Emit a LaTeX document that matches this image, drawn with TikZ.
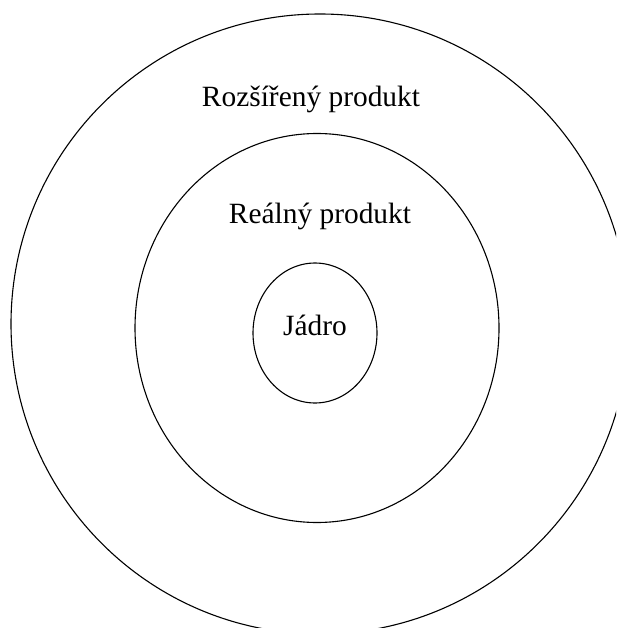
\documentclass[tikz,border=0pt]{standalone}
\usepackage{fontspec}
\setmainfont{Liberation Serif}
\usetikzlibrary{shapes.geometric}
\begin{document}
\begin{tikzpicture}[x=1pt, y=-1pt,
    ring/.style={draw, ellipse, line width=1.1pt, inner sep=0pt},
    lbl/.style={anchor=base, inner sep=0pt, font=\fontsize{29.4}{35}\selectfont}]
        \useasboundingbox (0,0) rectangle (616,628);
        \clip (0,0) rectangle (616,628);

        \node[ring, minimum width=618pt, minimum height=620pt] (outer) at (320,324) {};
        \node[ring, minimum width=364pt, minimum height=389pt] (real) at (317,328) {};
        \node[ring, minimum width=124pt, minimum height=140pt] (core) at (315,333) {};

        \node[lbl] (outertext) at (311,107) {Rozšířený produkt};
        \node[lbl] (realtext) at (320,223) {Reálný produkt};
        \node[lbl] (coretext) at (315,335) {Jádro};
    \end{tikzpicture}
\end{document}
